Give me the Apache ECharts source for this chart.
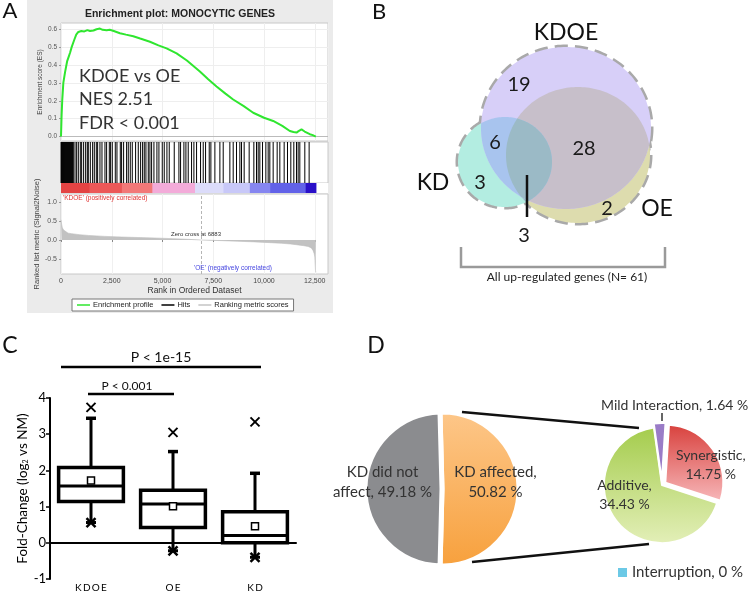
<!DOCTYPE html>
<html><head><meta charset="utf-8">
<script src="https://cdn.jsdelivr.net/npm/echarts@6/dist/echarts.min.js"></script>
<style>html,body{margin:0;padding:0;background:#fff}#c{width:748px;height:593px}</style>
</head><body><div id="c"></div>
<script>
// ================= Panel A : GSEA enrichment plot =================
const esRank  = [0,30,60,115,200,300,360,450,525,650,750,853,1000,1150,1300,1427,1600,1750,1919,2050,2247,2400,2600,2903,3200,3560,3900,4380,4800,5200,5693,6200,6840,7250,7660,8100,8480,9000,9465,10000,10450,10900,11270,11450,11600,11700,11845,12000,12254,12400,12550];
const esValue = [0,0.12,0.2,0.30,0.36,0.42,0.44,0.47,0.50,0.54,0.57,0.585,0.59,0.588,0.595,0.59,0.593,0.60,0.604,0.597,0.594,0.597,0.59,0.578,0.57,0.561,0.548,0.53,0.51,0.493,0.465,0.425,0.364,0.32,0.28,0.24,0.207,0.17,0.133,0.105,0.087,0.06,0.031,0.025,0.022,0.03,0.04,0.028,0.013,0.008,0];
const metricRank  = [0,30,66,130,197,350,525,900,1345,2165,2985,3800,4626,5500,6266,6883,7907,8700,9547,10300,10860,11300,11680,11950,12172,12330,12418,12470,12500,12533,12550];
const metricValue = [0.53,0.42,0.32,0.26,0.22,0.18,0.166,0.14,0.12,0.095,0.078,0.065,0.052,0.035,0.017,0,-0.017,-0.033,-0.05,-0.07,-0.086,-0.105,-0.13,-0.15,-0.17,-0.21,-0.28,-0.36,-0.45,-0.8,-0.85];
const hitRanks = [5,30,55,80,105,130,155,180,205,230,255,280,305,330,355,380,405,430,455,480,505,530,555,580,605,
  689,771,853,951,1017,1115,1214,1296,1345,1444,1558,1640,1739,1804,1919,2018,2165,2247,2379,2444,2526,2674,2756,2920,2985,
  3084,3231,3313,3412,3510,3674,3806,3921,4019,4101,4183,4298,4380,4462,4577,4724,4823,4987,5085,5217,5331,5577,5807,5889,
  6053,6152,6266,6430,6545,6677,6873,7005,7120,7300,7382,7579,7825,7989,8317,8481,8645,8809,8891,9021,9267,9498,9629,9711,
  9793,9925,10089,10203,10285,10449,10646,10778,10991,11155,11319,11467,11598,11680,11762,12008,12221];
const bandEdges = [0,1400,3000,4500,6600,8000,9300,10300,12050,12550];
const zeroCross = 6883;
const rankTicks = [0,2500,5000,7500,10000,12500];
const esTicks = [0,0.1,0.2,0.3,0.4,0.5,0.6];
const metricTicks = [-0.5,0,0.5,1.0];
const gseaStats = ['KDOE vs OE','NES 2.51','FDR < 0.001'];

// ================= Panel B : Venn =================
const vennSets = ['KDOE','KD','OE'];
// regions: KDOE only, KDOE∩KD, KDOE∩OE, KD only, OE only, all three
const vennCounts = [19,6,28,3,2,3];
const totalGenes = 61;

// ================= Panel C : box plot =================
const groups = ['KDOE','OE','KD'];
const whiskerLow  = [0.56,-0.22,-0.40];
const q1          = [1.14,0.42,0.00];
const median      = [1.57,1.07,0.20];
const q3          = [2.08,1.45,0.86];
const whiskerHigh = [3.44,2.52,1.92];
const means       = [1.72,1.01,0.46];
const extremeHigh = [3.74,3.05,3.34];
const extremeLow  = [0.56,-0.22,-0.40];
const pLabels = ['P < 1e-15','P < 0.001'];

// ================= Panel D : pies =================
const kdNames = ['KD affected','KD did not affect'];
const kdPct = [50.82,49.18];
const interNames = ['Mild Interaction','Synergistic','Additive','Interruption'];
const interPct = [1.64,14.75,34.43,0];

// ---------------- styles ----------------
const FONT = 'Lato';
const AF = 'Liberation Sans';
const XMAX = 13150;
const bandColors = ['#e34343','#ec5858','#f27878','#f3abd9','#dcdcfa','#c8c8f8','#8686f0','#6262e8','#2a10c8'];
const grad = (a,b)=>({type:'linear',x:0,y:0,x2:0,y2:1,colorStops:[{offset:0,color:a},{offset:1,color:b}]});

const esData = esRank.map((r,i)=>[r,esValue[i]]);
const metricData = metricRank.map((r,i)=>[r,metricValue[i]]);
const hitData = hitRanks.map(r=>[r]);
const bandData = bandEdges.slice(0,-1).map((e,i)=>[e,bandEdges[i+1],i]);
const boxData = groups.map((g,i)=>[i,whiskerLow[i],q1[i],median[i],q3[i],whiskerHigh[i],means[i],extremeHigh[i],extremeLow[i]]);

const aText = (t,x,y,size,color,align)=>({type:'text',z:100,style:{text:t,x:x,y:y,fontSize:size,fill:color,fontFamily:AF,align:align||'center',verticalAlign:'middle'}});
const txt = (t,x,y,size,color,align)=>({type:'text',z:100,style:{text:t,x:x,y:y,fontSize:size,fill:color||'#222',fontFamily:FONT,align:align||'center',verticalAlign:'middle'}});
const line = (x1,y1,x2,y2,w,c)=>({type:'line',z:100,shape:{x1,y1,x2,y2},style:{stroke:c||'#000',lineWidth:w}});

// ---------------- Venn geometry ----------------
function ell(cx,cy,rx,ry){const p=[];const n=200;for(let k=0;k<n;k++){const t=2*Math.PI*k/n;p.push([cx+rx*Math.cos(t),cy+ry*Math.sin(t)]);}return p;}
function clipPoly(subj,clip){
  let out=subj;
  for(let i=0;i<clip.length;i++){
    const a=clip[i],b=clip[(i+1)%clip.length];
    const inp=out;out=[];if(!inp.length)break;
    const ins=p=>(b[0]-a[0])*(p[1]-a[1])-(b[1]-a[1])*(p[0]-a[0])>=0;
    const inter=(p,q)=>{const d=(p[0]-q[0])*(a[1]-b[1])-(p[1]-q[1])*(a[0]-b[0]);const t=((p[0]-a[0])*(a[1]-b[1])-(p[1]-a[1])*(a[0]-b[0]))/d;return [p[0]+t*(q[0]-p[0]),p[1]+t*(q[1]-p[1])];};
    for(let j=0;j<inp.length;j++){const cur=inp[j],prev=inp[(j+inp.length-1)%inp.length];const ci=ins(cur),pi=ins(prev);
      if(ci){if(!pi)out.push(inter(prev,cur));out.push(cur);}else if(pi){out.push(inter(prev,cur));}}
  }
  return out;
}
const E_KDOE = ell(566,128,85,81), E_OE = ell(578,155,72,68), E_KD = ell(505,162,47,45);
const poly = (pts,fill,z,extra)=>Object.assign({type:'polygon',z:z,shape:{points:pts},style:{fill:fill}},extra||{});
const dashStyle = {fill:'none',stroke:'#a9a9a9',lineWidth:5,lineDash:[13,7]};
const vennG = [
  poly(E_KDOE,'none',10,{style:dashStyle}),
  poly(E_OE,'none',10,{style:dashStyle}),
  poly(E_KD,'none',10,{style:dashStyle}),
  poly(E_OE,'#dddcae',11),
  poly(E_KD,'#b3ede1',12),
  poly(clipPoly(E_KD,E_OE),'#9bbac6',13),
  poly(E_KDOE,'#d7cff8',14),
  poly(clipPoly(E_KDOE,E_OE),'#c7bfca',15),
  poly(clipPoly(E_KDOE,E_KD),'#a8c4ee',16),
  poly(clipPoly(clipPoly(E_KDOE,E_KD),E_OE),'#9bbac6',17)
];
const vennNumPos = [[519,85],[495,143],[584,149],[480,183],[607,209],[524,236]];
vennCounts.forEach((c,i)=>vennG.push(txt(String(c),vennNumPos[i][0],vennNumPos[i][1],20,'#1a1a1a')));
vennG.push(txt(vennSets[0],566,33,23,'#111'), txt(vennSets[1],433,183,23,'#111'), txt(vennSets[2],657,209,23,'#111'));
vennG.push(line(527,175,527,217,2.5,'#111'));
vennG.push({type:'polyline',z:100,shape:{points:[[461,247],[461,267],[665,267],[665,247]]},style:{stroke:'#9a9a9a',lineWidth:2.5,fill:'none'}});
vennG.push(txt('All up-regulated genes (N= '+totalGenes+')',567,277,12,'#222'));

const option = {
  animation:false,
  textStyle:{fontFamily:FONT},
  grid:[
    {left:61,top:23,width:267,height:118,show:true,backgroundColor:'#fff',borderColor:'#c8c8c8',borderWidth:1,outerBoundsMode:'none'},
    {left:61,top:142,width:267,height:41,show:true,backgroundColor:'#fff',borderColor:'#c8c8c8',borderWidth:1,outerBoundsMode:'none'},
    {left:61,top:183,width:267,height:10,show:true,backgroundColor:'#fff',borderWidth:0,outerBoundsMode:'none'},
    {left:61,top:194,width:267,height:80,show:true,backgroundColor:'#fff',borderColor:'#c8c8c8',borderWidth:1,outerBoundsMode:'none'},
    {left:50,top:398,width:246,height:181,outerBoundsMode:'none'}
  ],
  xAxis:[
    {gridIndex:0,type:'value',min:0,max:XMAX,interval:2500,axisLine:{show:false},axisTick:{show:false},axisLabel:{show:false},splitLine:{show:true,lineStyle:{color:'#eeeeee'}}},
    {gridIndex:1,type:'value',min:0,max:XMAX,show:false},
    {gridIndex:2,type:'value',min:0,max:XMAX,show:false},
    {gridIndex:3,type:'value',min:0,max:XMAX,axisLine:{show:false},
      axisTick:{show:true,length:2,customValues:rankTicks,lineStyle:{color:'#888'}},
      axisLabel:{customValues:rankTicks,formatter:v=>v.toLocaleString('en-US'),fontSize:7,color:'#444',fontFamily:AF,margin:4},
      splitLine:{show:true,lineStyle:{color:'#f0f0f0'}},
      name:'Rank in Ordered Dataset',nameLocation:'middle',nameGap:12,nameTextStyle:{fontSize:8.5,color:'#333',fontFamily:AF}},
    {gridIndex:4,type:'category',data:groups,
      axisLine:{lineStyle:{color:'#000',width:2}},
      axisTick:{alignWithLabel:true,length:4,lineStyle:{color:'#000',width:1.5}},
      axisLabel:{formatter:v=>v.split('').join('\u2009'),fontSize:10,color:'#000',margin:4,fontFamily:FONT}}
  ],
  yAxis:[
    {gridIndex:0,type:'value',min:-0.025,max:0.635,axisLine:{show:false},
      axisTick:{show:true,length:2,customValues:esTicks,lineStyle:{color:'#999'}},
      axisLabel:{customValues:esTicks,formatter:v=>v.toFixed(1),fontSize:6.5,color:'#555',fontFamily:AF,margin:4},
      splitLine:{show:true,lineStyle:{color:'#eeeeee'}},
      name:'Enrichment score (ES)',nameLocation:'middle',nameGap:16,nameRotate:90,nameTextStyle:{fontSize:6.5,color:'#444',fontFamily:AF}},
    {gridIndex:1,type:'value',min:0,max:1,show:false},
    {gridIndex:2,type:'value',min:0,max:1,show:false},
    {gridIndex:3,type:'value',min:-0.895,max:1.21,axisLine:{show:false},
      axisTick:{show:true,length:2,customValues:metricTicks,lineStyle:{color:'#999'}},
      axisLabel:{customValues:metricTicks,formatter:v=>v.toFixed(1),fontSize:7,color:'#555',fontFamily:AF,margin:4},
      splitLine:{show:false},
      name:'Ranked list metric (Signal2Noise)',nameLocation:'middle',nameGap:17,nameRotate:90,nameTextStyle:{fontSize:7.5,color:'#444',fontFamily:AF}},
    {gridIndex:4,type:'value',min:-1,max:4,interval:1,
      axisLine:{show:true,lineStyle:{color:'#000',width:2}},
      axisTick:{show:true,length:4,lineStyle:{color:'#000',width:1.5}},
      axisLabel:{fontSize:13,color:'#000',margin:4,fontFamily:FONT},
      splitLine:{show:false},
      name:'Fold-Change (log{s|2} vs NM)',nameLocation:'middle',nameGap:15,nameRotate:90,
      nameTextStyle:{fontSize:13.5,color:'#000',fontFamily:FONT,rich:{s:{fontSize:7,color:'#000',fontFamily:FONT,verticalAlign:'bottom',padding:[6,0,0,0]}}}}
  ],
  legend:[
    {data:['Enrichment profile','Hits','Ranking metric scores'],left:72,top:299,orient:'horizontal',icon:'rect',itemWidth:13,itemHeight:1.5,itemGap:8,
      padding:[2,5],backgroundColor:'#fff',borderColor:'#777',borderWidth:1,selectedMode:false,
      textStyle:{fontSize:7.5,color:'#222',fontFamily:AF,padding:[0,0,0,-2]}},
    {data:['Interruption'],left:613,top:560,icon:'rect',itemWidth:9,itemHeight:9,selectedMode:false,
      formatter:n=>n+', '+interPct[3]+' %',textStyle:{fontSize:15,color:'#333',fontFamily:FONT}}
  ],
  series:[
    {type:'line',name:'Enrichment profile',xAxisIndex:0,yAxisIndex:0,data:esData,symbol:'none',color:'#2fe62f',
      lineStyle:{width:2,color:'#2fe62f'},z:5,
      markLine:{silent:true,symbol:'none',label:{show:false},lineStyle:{color:'#bbbbbb',type:'solid',width:1},data:[{yAxis:0}]}},
    {type:'custom',name:'Hits',xAxisIndex:1,yAxisIndex:1,data:hitData,encode:{x:0},itemStyle:{color:'#000'},silent:true,
      renderItem:(p,api)=>{const x=api.coord([api.value(0),0])[0];const y0=api.coord([0,0])[1];const y1=api.coord([0,1])[1];
        return {type:'line',shape:{x1:x,y1:y0,x2:x,y2:y1},style:{stroke:'#000',lineWidth:1}};}},
    {type:'custom',name:'colorbar',xAxisIndex:2,yAxisIndex:2,data:bandData,encode:{x:[0,1]},silent:true,
      renderItem:(p,api)=>{const a=api.coord([api.value(0),1]);const b=api.coord([api.value(1),0]);
        return {type:'rect',shape:{x:a[0],y:a[1],width:b[0]-a[0]+0.6,height:b[1]-a[1]},style:{fill:bandColors[api.value(2)]}};}},
    {type:'line',name:'Ranking metric scores',xAxisIndex:3,yAxisIndex:3,data:metricData,symbol:'none',color:'#c4c4c4',
      lineStyle:{width:0.6,color:'#bdbdbd'},areaStyle:{color:'#c2c2c2',opacity:1},
      markLine:{silent:true,symbol:'none',label:{show:false},lineStyle:{color:'#b5b5b5',type:[3,2],width:1},data:[{xAxis:zeroCross}]}},
    {type:'custom',name:'box',xAxisIndex:4,yAxisIndex:4,data:boxData,encode:{x:0,y:[1,2,3,4,5,6,7,8]},silent:true,
      renderItem:(p,api)=>{
        const i=api.value(0);const xc=api.coord([i,0])[0];const bw=api.size([1,0])[0]*0.79;
        const Y=k=>api.coord([i,api.value(k)])[1];
        const lo=Y(1),b1=Y(2),md=Y(3),b3=Y(4),hi=Y(5),mn=Y(6),xh=Y(7),xl=Y(8);
        const L=(x1,y1,x2,y2,w)=>({type:'line',shape:{x1,y1,x2,y2},style:{stroke:'#000',lineWidth:w}});
        return {type:'group',children:[
          L(xc,b3,xc,hi,3),L(xc-5,hi,xc+5,hi,3.5),
          L(xc,b1,xc,lo,3),L(xc-5,lo,xc+5,lo,3),
          L(xc-4.5,xl-4.5,xc+4.5,xl+4.5,2.5),L(xc-4.5,xl+4.5,xc+4.5,xl-4.5,2.5),
          {type:'rect',shape:{x:xc-bw/2,y:b3,width:bw,height:b1-b3},style:{fill:'#fff',stroke:'#000',lineWidth:3.5}},
          L(xc-bw/2,md,xc+bw/2,md,3),
          {type:'rect',shape:{x:xc-3.5,y:mn-3.5,width:7,height:7},style:{fill:'#fff',stroke:'#000',lineWidth:1.5}},
          L(xc-4.5,xh-4.5,xc+4.5,xh+4.5,2),L(xc-4.5,xh+4.5,xc+4.5,xh-4.5,2)
        ]};
      }},
    {type:'pie',name:'kd',center:[442,489],radius:77,startAngle:91.5,clockwise:true,silent:true,
      itemStyle:{borderColor:'#fff',borderWidth:5},
      data:[
        {name:kdNames[0],value:kdPct[0],itemStyle:{color:grad('#fdc78a','#f7a03c')}},
        {name:kdNames[1],value:kdPct[1],itemStyle:{color:'#8b8c8f'}}
      ],
      label:{show:true,position:'inside',fontSize:15,lineHeight:20,color:'#333',fontFamily:FONT,
        formatter:p=>{const w=p.name.split(' ');return w.length>2?w.slice(0,-1).join(' ')+'\n'+w[w.length-1]+', '+p.value+' %':p.name+',\n'+p.value+' %';}},
      labelLine:{show:false},
      labelLayout:p=>p.dataIndex===0?{dx:12,dy:-7}:{dx:-18,dy:-7}},
    {type:'pie',name:'inter',center:[662,485],radius:58,startAngle:98,clockwise:true,silent:true,
      selectedMode:'multiple',selectedOffset:4,
      itemStyle:{borderColor:'#fff',borderWidth:2},
      data:[
        {name:interNames[0],value:interPct[0],selected:true,itemStyle:{color:'#9a7cc7'}},
        {name:interNames[1],value:interPct[1],selected:true,itemStyle:{color:grad('#d8403c','#f7b8ba')}},
        {name:interNames[2],value:interPct[2],itemStyle:{color:grad('#a4cc4c','#e3efb8')}},
        {name:interNames[3],value:interPct[3],itemStyle:{color:'#6cc9e6',borderWidth:0},label:{show:false}}
      ],
      label:{show:true,position:'inside',fontSize:14,lineHeight:19,color:'#333',fontFamily:FONT,
        formatter:p=>p.dataIndex===0?p.name+', '+p.value+' %':p.name+',\n'+p.value+' %'},
      labelLine:{show:false},
      labelLayout:p=>{
        if(p.dataIndex===0) return {dx:14,dy:-44};
        if(p.dataIndex===1) return {dx:19,dy:0};
        if(p.dataIndex===2) return {dx:-13,dy:-11};
        return {};
      }}
  ],
  graphic:{elements:[
    {type:'rect',z:-10,shape:{x:27,y:0,width:306,height:313},style:{fill:'#ebebeb'}},
    txt('A',10,11,22,'#111'), txt('B',379,12,22,'#111'), txt('C',10,346,23,'#111'), txt('D',376,346,23,'#111'),
    {type:'text',z:100,style:{text:'Enrichment plot: MONOCYTIC GENES',x:180,y:14,fontSize:10.5,fontWeight:'bold',fill:'#222',fontFamily:AF,align:'center',verticalAlign:'middle'}},
    txt(gseaStats[0],79,76,18,'#333','left'), txt(gseaStats[1],79,99.5,18,'#333','left'), txt(gseaStats[2],79,123,18,'#333','left'),
    aText("'KDOE' (positively correlated)",63,198.5,6.5,'#e03535','left'),
    aText("'OE' (negatively correlated)",194,268.5,6.5,'#4646e0','left'),
    aText('Zero cross at '+zeroCross,196,234.5,6,'#333'),
    ...vennG,
    line(61,367,261,367,2.5), txt(pLabels[0],161,357,14,'#111'),
    line(88,394,174,394,2.5), txt(pLabels[1],127,386,12,'#111'),
    line(462,412,639,428,2.5,'#111'), line(472,562,649,544,2.5,'#111'),
    line(662,413,662,421,1.5,'#333')
  ]}
};
const chart = echarts.init(document.getElementById('c'),null,{renderer:'canvas'});
chart.setOption(option);
</script></body></html>
